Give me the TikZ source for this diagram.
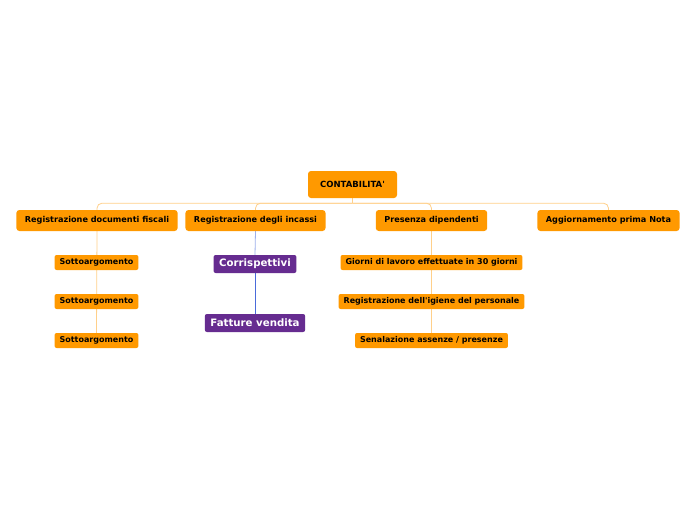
\documentclass[tikz,border=0pt]{standalone}
\usepackage{fontspec}
\setmainfont{DejaVu Sans}
\usetikzlibrary{backgrounds}
\definecolor{orng}{HTML}{FF9900}
\definecolor{purp}{HTML}{662C90}
\definecolor{lnor}{HTML}{FFD08A}
\definecolor{lnbl1}{HTML}{9DB0EC}
\definecolor{lnbl2}{HTML}{4A6BDA}
\begin{document}
\begin{tikzpicture}[x=1pt,y=-1pt,
  rootbox/.style={fill=orng,rounded corners=3pt,font=\bfseries\fontsize{8.5}{10}\selectfont,text=black,minimum width=89pt,minimum height=27pt,inner sep=0pt},
  mainbox/.style={fill=orng,rounded corners=3pt,font=\bfseries\fontsize{8.15}{10}\selectfont,text=black,minimum height=21pt,inner xsep=8.5pt,inner ysep=0pt},
  subbox/.style={fill=orng,rounded corners=2pt,font=\bfseries\fontsize{8}{9}\selectfont,text=black,minimum height=15pt,inner xsep=5pt,inner ysep=0pt},
  purpbox/.style={fill=purp,rounded corners=2pt,font=\bfseries\fontsize{10.2}{12}\selectfont,text=white,minimum height=18pt,inner xsep=5.5pt,inner ysep=0pt},
  conn/.style={draw=lnor,line width=0.8pt}]
\useasboundingbox (0,0) rectangle (696,520);
\node[rootbox] (root) at (352.5,184.5) {CONTABILITA\textquotesingle};
\node[mainbox] (a) at (97,220.5) {Registrazione documenti fiscali};
\node[mainbox] (b) at (255.5,220.5) {Registrazione degli incassi};
\node[mainbox] (c) at (431.5,220.5) {Presenza dipendenti};
\node[mainbox] (d) at (608.5,220.5) {Aggiornamento prima Nota};
\node[subbox] (a1) at (96.5,262.5) {Sottoargomento};
\node[subbox] (a2) at (96.5,301.5) {Sottoargomento};
\node[subbox] (a3) at (96.5,340.5) {Sottoargomento};
\node[purpbox] (b1) at (255,264) {Corrispettivi};
\node[purpbox] (b2) at (255,323) {Fatture vendita};
\node[subbox] (c1) at (431.5,262.5) {Giorni di lavoro effettuate in 30 giorni};
\node[subbox] (c2) at (431.5,301.5) {Registrazione dell\textquotesingle igiene del personale};
\node[subbox] (c3) at (431.5,340.5) {Senalazione assenze / presenze};
\coordinate (j) at ([yshift=-5pt]root.south);
\begin{scope}[on background layer]
\fill[white] (0,0) rectangle (696,520);
\draw[conn] (root.south) -- (j);
\foreach \n in {a,b,c,d}{
  \draw[conn,rounded corners=5pt] (j) -| (\n.north);
}
\draw[conn] (a.south) -- (a3.north);
\draw[conn] (c.south) -- (c3.north);
\draw[draw=lnbl1,line width=0.8pt] (b.south) -- (b1.north);
\draw[draw=lnbl2,line width=0.8pt] (b1.south) -- (b2.north);
\end{scope}
\end{tikzpicture}
\end{document}
